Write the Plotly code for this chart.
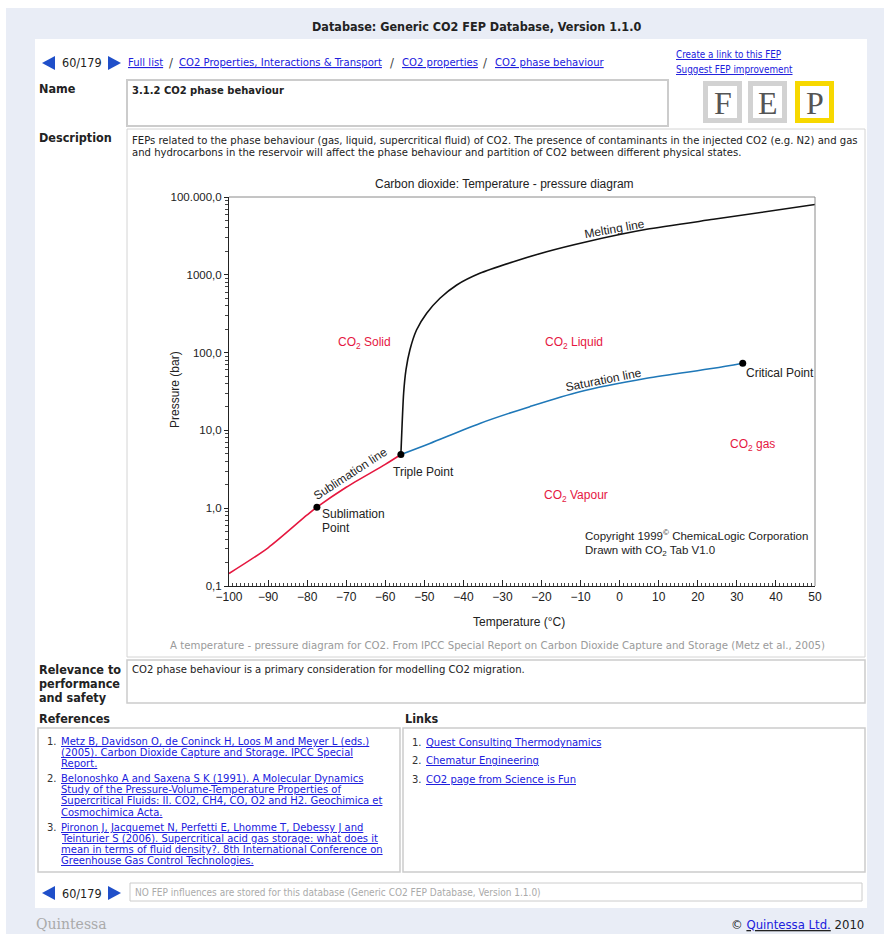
import plotly.graph_objects as go

# ---------------- data ----------------
sublimation_T = [-100, -90, -80, -77.5, -70, -60, -56.0]
sublimation_P = [0.145, 0.31, 0.82, 1.03, 1.86, 3.66, 4.9]

saturation_T = [-56.0, -48.6, -35.8, -23.0, -10.2, 6.9, 24.0, 31.5]
saturation_P = [4.9, 6.8, 12.3, 20.2, 31.4, 46.7, 62.8, 73.0]

melting_T = [-56.0, -55.3, -54.7, -53.7, -52.0, -49.4, -46.0, -41.7, -35.8, -27.2, -18.7, -8.4, 6.9, 24.0, 50]
melting_P = [4.9, 30, 60, 108, 195, 320, 499, 740, 1045, 1472, 1982, 2667, 3846, 5164, 8000]

point_names = ["Sublimation Point", "Triple Point", "Critical Point"]
point_T = [-77.5, -56.0, 31.5]
point_P = [1.03, 4.9, 73.0]

x_tickvals = list(range(-100, 51, 10))
y_tickvals = [0.1, 1, 10, 100, 1000, 10000]
y_ticktext = ["0,1", "1,0", "10,0", "100,0", "1000,0", "100.000,0"]

references = [
    ["Metz B, Davidson O, de Coninck H, Loos M and Meyer L (eds.)",
     "(2005). Carbon Dioxide Capture and Storage. IPCC Special",
     "Report."],
    ["Belonoshko A and Saxena S K (1991). A Molecular Dynamics",
     "Study of the Pressure-Volume-Temperature Properties of",
     "Supercritical Fluids: II. CO2, CH4, CO, O2 and H2. Geochimica et",
     "Cosmochimica Acta."],
    ["Pironon J, Jacquemet N, Perfetti E, Lhomme T, Debessy J and",
     "Teinturier S (2006). Supercritical acid gas storage: what does it",
     "mean in terms of fluid density?. 8th International Conference on",
     "Greenhouse Gas Control Technologies."],
]
links = ["Quest Consulting Thermodynamics", "Chematur Engineering", "CO2 page from Science is Fun"]

# ---------------- layout helpers ----------------
W, H = 888, 938
L, R, T, B = 229, 815, 197, 586
PW, PH = R - L, B - T

def X(px):
    return (px - L) / PW

def Y(py):
    return (B - py) / PH

PAGE = "DejaVu Sans Condensed, DejaVu Sans, sans-serif"
VERD = "DejaVu Sans, Verdana, sans-serif"
CHART = "Liberation Sans, Arial, Helvetica, sans-serif"
LINK = "#2020dd"
RED = "#e5173f"

shapes = []
ann = []

def rect(x0, y0, x1, y1, fill=None, line=None, lw=1):
    shapes.append(dict(type="rect", xref="paper", yref="paper",
                       x0=X(x0), x1=X(x1), y0=Y(y1), y1=Y(y0),
                       fillcolor=fill if fill else "rgba(0,0,0,0)",
                       line=dict(color=line if line else "rgba(0,0,0,0)", width=lw if line else 0),
                       layer="below"))

def tri(pts, color):
    p = "M " + " L ".join(f"{X(a):.5f},{Y(b):.5f}" for a, b in pts) + " Z"
    shapes.append(dict(type="path", xref="paper", yref="paper", path=p,
                       fillcolor=color, line=dict(width=0), layer="below"))

def text(px, py, s, size=10, color="#222", family=PAGE, anchor="left", angle=0):
    ann.append(dict(x=X(px), y=Y(py), xref="paper", yref="paper", text=s,
                    showarrow=False, xanchor=anchor, yanchor="middle",
                    textangle=angle, font=dict(size=size, color=color, family=family)))

def ulink(s):
    return f"<u>{s}</u>"

LBL = 12.5    # bold labels
BODY = 11.2   # body text

# ---------------- page frame ----------------
rect(6, 8, 884, 934, fill="#e9edf6")
rect(35, 39, 867, 908, fill="white")
rect(127, 80, 668, 126, fill="white", line="#cccccc", lw=2)
rect(127, 129, 865, 657, fill="white", line="#d4d4d4", lw=1)
rect(127, 660, 865, 703, fill="white", line="#cccccc", lw=1.5)
rect(38, 728, 400, 872, fill="white", line="#cccccc", lw=1.5)
rect(403, 728, 865, 872, fill="white", line="#cccccc", lw=1.5)
rect(130, 883, 862, 901, fill="white", line="#cccccc", lw=1)

# FEP logo boxes
for (x0, x1, col) in [(703, 742, "#d2d2d2"), (748, 787, "#d2d2d2"), (795, 834, "#f7d800")]:
    rect(x0, 81, x1, 123, fill=col)
    rect(x0 + 5, 86, x1 - 5, 118, fill="white")
for (cx, ch) in [(722.5, "F"), (767.5, "E"), (814.5, "P")]:
    text(cx, 103, ch, size=32, color="#555555", family="Liberation Serif, DejaVu Serif, serif", anchor="center")

# navigation arrows
ARROW = "#1f4fc9"
for yc in (63, 893):
    tri([(42, yc), (55, yc - 7), (55, yc + 7)], ARROW)
    tri([(108, yc - 7), (108, yc + 7), (121, yc)], ARROW)
    text(60, yc, "60/179", size=12.5, color="#222")

# header texts
text(476, 26, "<b>Database: Generic CO2 FEP Database, Version 1.1.0</b>", size=12.5, anchor="center")
text(126, 63, ulink("Full list"), size=BODY, color=LINK)
text(167, 62, "/", size=13, color="#444")
text(177, 63, ulink("CO2 Properties, Interactions &amp; Transport"), size=BODY, color=LINK)
text(388, 62, "/", size=13, color="#444")
text(400, 63, ulink("CO2 properties"), size=BODY, color=LINK)
text(481, 62, "/", size=13, color="#444")
text(493, 63, ulink("CO2 phase behaviour"), size=BODY, color=LINK)
text(674, 55, ulink("Create a link to this FEP"), size=9.8, color=LINK)
text(674, 69, ulink("Suggest FEP improvement"), size=9.8, color=LINK)

text(37, 89, "<b>Name</b>", size=LBL)
text(130, 90, "<b>3.1.2 CO2 phase behaviour</b>", size=11.1)
text(37, 138, "<b>Description</b>", size=LBL)
text(130, 140, "FEPs related to the phase behaviour (gas, liquid, supercritical fluid) of CO2. The presence of contaminants in the injected CO2 (e.g. N2) and gas", size=BODY)
text(130, 152, "and hydrocarbons in the reservoir will affect the phase behaviour and partition of CO2 between different physical states.", size=BODY)

text(37, 669, "<b>Relevance to</b>", size=LBL)
text(37, 683, "<b>performance</b>", size=LBL)
text(37, 697, "<b>and safety</b>", size=LBL)
text(130, 669, "CO2 phase behaviour is a primary consideration for modelling CO2 migration.", size=BODY)

text(37, 718, "<b>References</b>", size=LBL)
text(403, 718, "<b>Links</b>", size=LBL)

yy = 741
for i, ref in enumerate(references):
    text(45, yy, f"{i+1}.", size=10, color="#333", family=VERD)
    for line in ref:
        text(59, yy, ulink(line), size=10, color=LINK, family=VERD)
        yy += 11.3
    yy += 3.5
for i, lk in enumerate(links):
    yl = 742 + i * 18.5
    text(410, yl, f"{i+1}.", size=10, color="#333", family=VERD)
    text(424, yl, ulink(lk), size=10, color=LINK, family=VERD)

text(133, 892, "NO FEP influences are stored for this database (Generic CO2 FEP Database, Version 1.1.0)", size=10, color="#aaaaaa")
text(34, 924, "Quintessa", size=14, color="#aaaaaa", family="DejaVu Serif, serif")
text(866, 924, "© " + ulink("<span style='color:" + LINK + "'>Quintessa Ltd.</span>") + " 2010", size=13, color="#222", anchor="right")

# ---------------- chart ----------------
fig = go.Figure()
fig.add_trace(go.Scatter(x=melting_T, y=melting_P, mode="lines", line=dict(color="#111", width=1.6, shape="spline", smoothing=0.6), hoverinfo="skip"))
fig.add_trace(go.Scatter(x=saturation_T, y=saturation_P, mode="lines", line=dict(color="#1f78b8", width=1.6, shape="spline", smoothing=0.8), hoverinfo="skip"))
fig.add_trace(go.Scatter(x=sublimation_T, y=sublimation_P, mode="lines", line=dict(color=RED, width=1.6, shape="spline", smoothing=0.8), hoverinfo="skip"))
fig.add_trace(go.Scatter(x=point_T, y=point_P, mode="markers", marker=dict(color="black", size=7), text=point_names, hoverinfo="text"))

# chart texts
text(504, 184, "Carbon dioxide: Temperature - pressure diagram", size=12, family=CHART, anchor="center")
text(519, 622, "Temperature (°C)", size=12, family=CHART, anchor="center")
text(175, 390, "Pressure (bar)", size=12, family=CHART, anchor="center", angle=-90)
text(364, 343, "CO<sub>2</sub> Solid", size=12, color=RED, family=CHART, anchor="center")
text(574, 343, "CO<sub>2</sub> Liquid", size=12, color=RED, family=CHART, anchor="center")
text(752, 445, "CO<sub>2</sub> gas", size=12, color=RED, family=CHART, anchor="center")
text(576, 496, "CO<sub>2</sub> Vapour", size=12, color=RED, family=CHART, anchor="center")
text(350, 474, "Sublimation line", size=12, family=CHART, anchor="center", angle=-33)
text(603, 380, "Saturation line", size=12, family=CHART, anchor="center", angle=-11)
text(614, 229, "Melting line", size=12, family=CHART, anchor="center", angle=-10)
text(744, 373, "Critical Point", size=12, family=CHART)
text(391, 472, "Triple Point", size=12, family=CHART)
text(320, 514, "Sublimation", size=12, family=CHART)
text(320, 528, "Point", size=12, family=CHART)
text(583, 535, "Copyright 1999<sup>©</sup> ChemicaLogic Corporation", size=11.5, family=CHART)
text(583, 551, "Drawn with CO<sub>2</sub> Tab V1.0", size=11.5, family=CHART)
text(497, 645, "A temperature - pressure diagram for CO2. From IPCC Special Report on Carbon Dioxide Capture and Storage (Metz et al., 2005)", size=10.2, color="#9a9a9a", family=VERD, anchor="center")

# plot frame top/right
shapes.append(dict(type="line", xref="paper", yref="paper", x0=0, x1=1, y0=1, y1=1, line=dict(color="#8a8a8a", width=1)))
shapes.append(dict(type="line", xref="paper", yref="paper", x0=1, x1=1, y0=0, y1=1, line=dict(color="#8a8a8a", width=1)))

fig.update_layout(
    width=W, height=H, autosize=False,
    margin=dict(l=L, r=W - R, t=T, b=H - B, pad=0),
    paper_bgcolor="white", plot_bgcolor="rgba(0,0,0,0)",
    showlegend=False, shapes=shapes, annotations=ann,
    font=dict(family=CHART, size=12, color="#222"),
    xaxis=dict(range=[-100, 50], tickmode="array", tickvals=x_tickvals,
               ticks="inside", ticklen=6, tickcolor="#222", showline=True, linecolor="#222",
               showgrid=False, zeroline=False, tickfont=dict(size=12, family=CHART, color="#222"),
               minor=dict(ticks="inside", ticklen=3, dtick=1, tickcolor="#444", showgrid=False)),
    yaxis=dict(type="log", range=[-1, 4], tickmode="array", tickvals=y_tickvals, ticktext=y_ticktext,
               ticks="outside", ticklen=4, tickcolor="#222", showline=True, linecolor="#222",
               showgrid=False, zeroline=False, tickfont=dict(size=11.5, family=CHART, color="#222"),
               minor=dict(ticks="outside", ticklen=3, dtick="D1", tickcolor="#444", showgrid=False)),
)

fig.write_html("out.html", config={"displayModeBar": False},
               post_script="document.body.style.margin='0';document.body.style.overflow='hidden';")
